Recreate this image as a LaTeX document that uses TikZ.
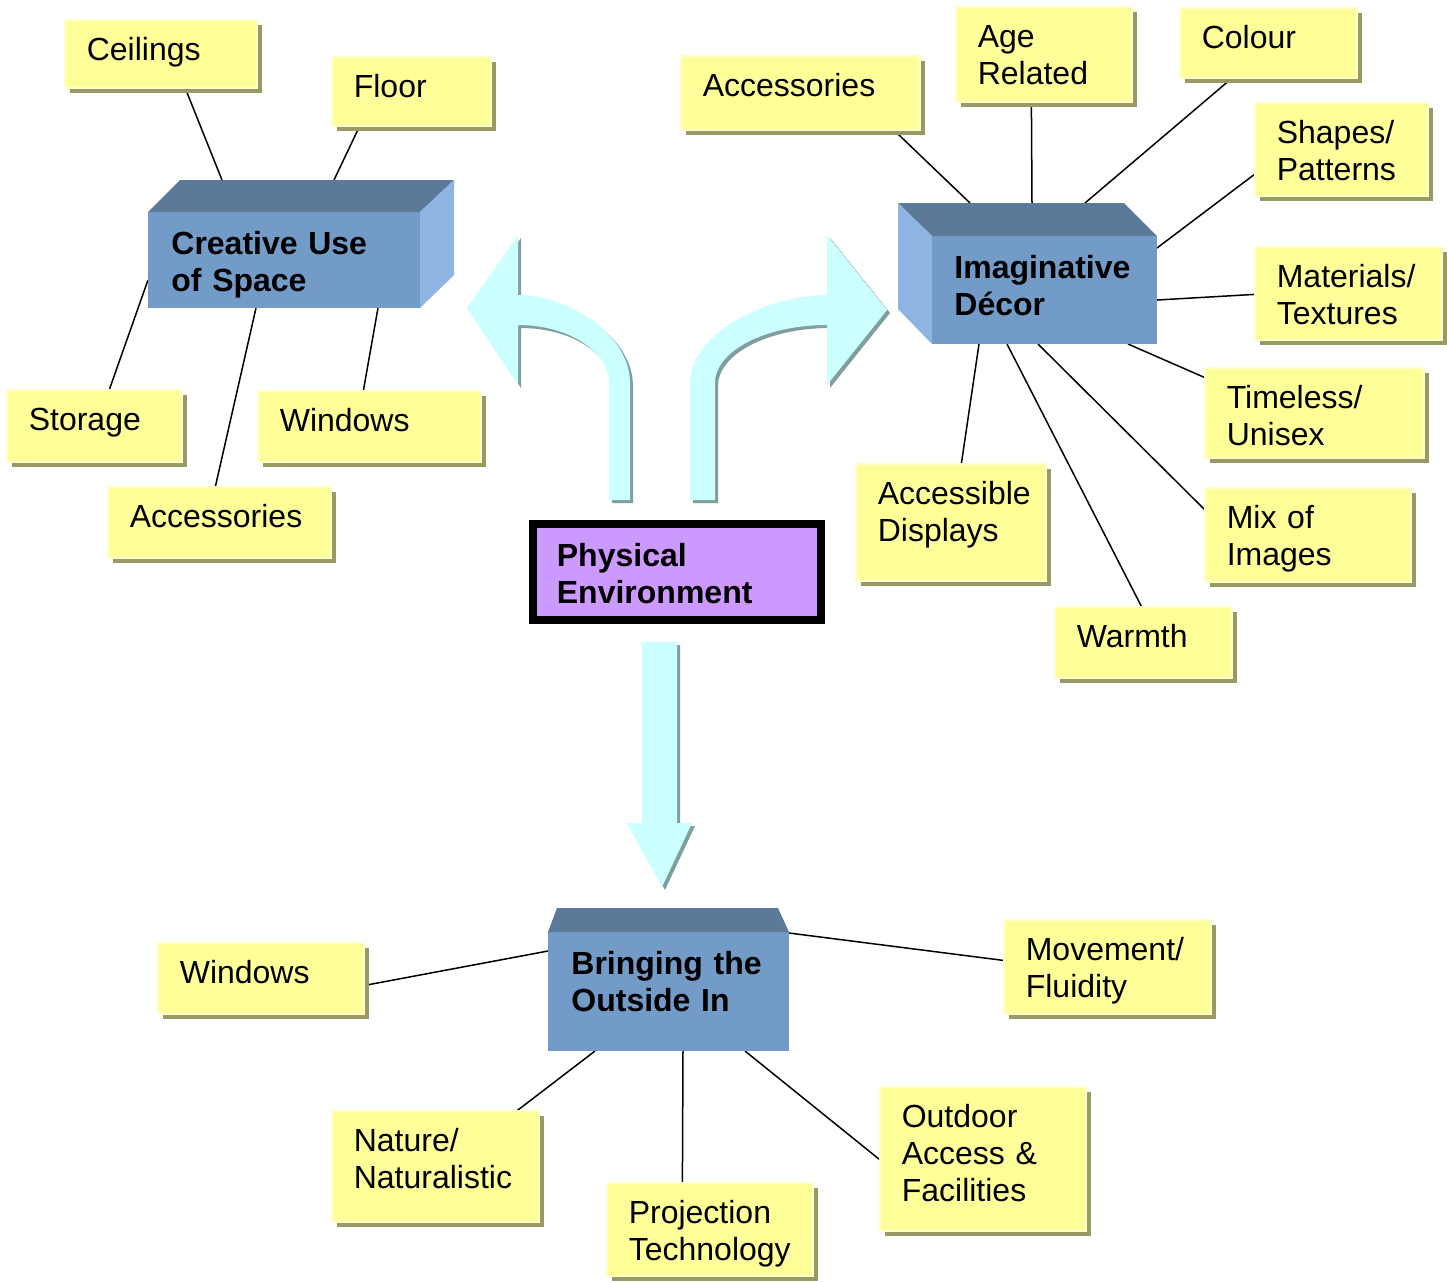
\documentclass[tikz,border=0pt]{standalone}
\usepackage{fontspec}
\setmainfont{Liberation Sans}
\usetikzlibrary{calc,fit}
\pgfdeclarelayer{background}
\pgfdeclarelayer{canvas}
\pgfsetlayers{canvas,background,main}
\definecolor{noteY}{HTML}{FFFF99}
\definecolor{noteE}{HTML}{FFFFCC}
\definecolor{noteS}{HTML}{999966}
\definecolor{boxF}{HTML}{739BC7}
\definecolor{boxT}{HTML}{5B7A99}
\definecolor{boxS}{HTML}{8DB4E2}
\definecolor{arrC}{HTML}{CCFFFF}
\definecolor{arrS}{HTML}{7F9F9F}
\definecolor{centreF}{HTML}{CC99FF}
\tikzset{
  notebox/.style={fill=noteY, draw=noteE, line width=0.6pt, inner sep=0pt},
  noteshadow/.style={fill=noteS},
  notetxt/.style={inner sep=0pt, anchor=base west, text width=120pt, align=left,
    font=\fontsize{16pt}{18.5pt}\selectfont},
  boxtxt/.style={notetxt, font=\fontsize{16pt}{18.5pt}\selectfont\bfseries},
  frontface/.style={fill=boxF, inner sep=0pt, outer sep=0pt},
  topface/.style={fill=boxT},
  sideface/.style={fill=boxS},
  arrowface/.style={fill=arrC},
  arrowshadow/.style={fill=arrS},
  centrebox/.style={draw=black, line width=4pt, fill=centreF, inner sep=0pt, outer sep=0pt},
  link/.style={draw=black, line width=0.75pt},
}
\newcommand\mknote[6]{%
  \fill[noteshadow] (#2+5,#3+5) rectangle (#4+5,#5+5);
  \node[notebox, fit={(#2,#3) (#4,#5)}] (#1) {};
  \node[notetxt] (#1-t) at ($(#1.north west)+(22,41)$) {#6};
}
\begin{document}
\begin{tikzpicture}[x=0.5pt, y=-0.5pt]
\begin{pgfonlayer}{canvas}
\fill[white] (0,0) rectangle (1447,1282);
\end{pgfonlayer}
\useasboundingbox (0,0) rectangle (1447,1282);

% ---------- big arrows ----------
\def\leftarr{(630,500) -- (630,383) .. controls (630,334) and (568,295) .. (518,295)
  -- (518,235) -- (467,308) -- (518,385) -- (518,325)
  .. controls (568,325) and (609,351) .. (609,383) -- (609,500) -- cycle}
\def\rightarr{(690,500) -- (690,383) .. controls (690,334) and (766,295) .. (827,295)
  -- (827,235) -- (887,310) -- (827,385) -- (827,325)
  .. controls (765,325) and (715,351) .. (715,383) -- (715,500) -- cycle}
\def\downarr{(642,642) -- (677,642) -- (677,823) -- (692,823) -- (662,887)
  -- (627,823) -- (642,823) -- cycle}
\fill[arrowshadow, shift={(3,3)}] \leftarr;
\fill[arrowface] \leftarr;
\fill[arrowshadow, shift={(3,3)}] \rightarr;
\fill[arrowface] \rightarr;
\fill[arrowshadow, shift={(3,3)}] \downarr;
\fill[arrowface] \downarr;

% ---------- 3D boxes ----------
\node[frontface, fit={(148,212) (420,308)}] (cre) {};
\fill[topface] (cre.north west) -- ($(cre.north west)+(32,-32)$) -- ($(cre.north east)+(34,-32)$) -- (cre.north east) -- cycle;
\fill[sideface] (cre.north east) -- ($(cre.north east)+(34,-32)$) -- ($(cre.south east)+(34,-33)$) -- (cre.south east) -- cycle;
\node[boxtxt] (cre-t) at ($(cre.north west)+(23,42)$) {Creative Use\\of Space};

\node[frontface, fit={(932,236) (1157,344)}] (ima) {};
\fill[topface] (ima.north west) -- ($(ima.north west)+(-34,-33)$) -- ($(ima.north east)+(-33,-33)$) -- (ima.north east) -- cycle;
\fill[sideface] (ima.north west) -- ($(ima.north west)+(-34,-33)$) -- ($(ima.south west)+(-34,-35)$) -- (ima.south west) -- cycle;
\node[boxtxt] (ima-t) at ($(ima.north west)+(22,42)$) {Imaginative\\Décor};

\node[frontface, fit={(548,932) (789,1051)}] (bri) {};
\fill[topface] (bri.north west) -- ($(bri.north west)+(9,-24)$) -- ($(bri.north east)+(-11,-24)$) -- (bri.north east) -- cycle;
\node[boxtxt] (bri-t) at ($(bri.north west)+(23,42)$) {Bringing the\\Outside In};

% ---------- centre ----------
\node[centrebox, fit={(532.5,524) (821,620)}] (phys) {};
\node[boxtxt] (phys-t) at ($(phys.north west)+(24,42)$) {Physical\\Environment};

% ---------- notes ----------
\mknote{ceil}{65}{20}{257}{88}{Ceilings}
\mknote{floor}{332}{57}{491}{126}{Floor}
\mknote{stor}{7}{390}{182}{462}{Storage}
\mknote{winL}{258}{391}{481}{462}{Windows}
\mknote{accL}{108}{487}{331}{558}{Accessories}
\mknote{accR}{681}{56}{920}{130}{Accessories}
\mknote{age}{956}{7}{1132}{102}{Age\\Related}
\mknote{col}{1180}{8}{1357}{78}{Colour}
\mknote{shp}{1255}{103}{1428}{196}{Shapes/\\Patterns}
\mknote{mat}{1255}{247}{1442}{340}{Materials/\\Textures}
\mknote{tim}{1205}{368}{1424}{458}{Timeless/\\Unisex}
\mknote{mix}{1205}{488}{1411}{582}{Mix of\\Images}
\mknote{warm}{1055}{607}{1232}{678}{Warmth}
\mknote{disp}{856}{464}{1046}{581}{Accessible\\Displays}
\mknote{winB}{158}{943}{364}{1014}{Windows}
\mknote{mov}{1004}{920}{1211}{1014}{Movement/\\Fluidity}
\mknote{nat}{332}{1111}{539}{1222}{Nature/\\Naturalistic}
\mknote{proj}{607}{1183}{813}{1276}{Projection\\Technology}
\mknote{out}{880}{1087}{1086}{1231}{Outdoor\\Access \&\\Facilities}

% ---------- connectors ----------
\begin{pgfonlayer}{background}
\draw[link] ($(ceil.south west)+(121,0)$) -- ($(cre.north west)+(74,-32)$);
\draw[link] ($(floor.south west)+(28,0)$) -- ($(cre.north west)+(186,-32)$);
\draw[link] ($(stor.north west)+(103,0)$) -- ($(cre.north west)+(0,68)$);
\draw[link] ($(winL.north west)+(106,0)$) -- ($(cre.south west)+(230,0)$);
\draw[link] ($(accL.north west)+(108,0)$) -- ($(cre.south west)+(108,0)$);

\draw[link] ($(accR.south west)+(214,0)$) -- ($(ima.north west)+(38,-33)$);
\draw[link] ($(age.south west)+(76,0)$) -- ($(ima.north west)+(100,-33)$);
\draw[link] ($(col.south west)+(52,0)$) -- ($(ima.north west)+(153,-33)$);
\draw[link] ($(shp.north west)+(0,72)$) -- ($(ima.north east)+(0,12)$);
\draw[link] ($(mat.north west)+(0,48)$) -- ($(ima.north east)+(0,64)$);
\draw[link] ($(tim.north west)+(0,10)$) -- ($(ima.south east)+(-29,0)$);
\draw[link] ($(mix.north west)+(0,22)$) -- ($(ima.south west)+(106,0)$);
\draw[link] ($(warm.north west)+(87,0)$) -- ($(ima.south west)+(75,0)$);
\draw[link] ($(disp.north west)+(106,0)$) -- ($(ima.south west)+(47,0)$);

\draw[link] ($(winB.north east)+(0,43)$) -- ($(bri.north west)+(0,19)$);
\draw[link] ($(mov.north west)+(0,41)$) -- ($(bri.north east)+(0,1)$);
\draw[link] ($(nat.north west)+(186,0)$) -- ($(bri.south west)+(47,0)$);
\draw[link] ($(proj.north west)+(76,0)$) -- ($(bri.south west)+(135,0)$);
\draw[link] ($(out.north west)+(0,73)$) -- ($(bri.south west)+(197,0)$);
\end{pgfonlayer}
\end{tikzpicture}
\end{document}
